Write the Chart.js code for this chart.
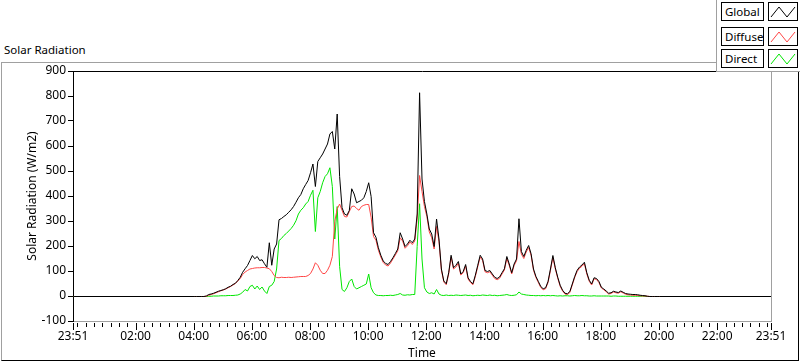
<!DOCTYPE html>
<html>
<head>
<meta charset="utf-8">
<script src="https://cdn.jsdelivr.net/npm/chart.js@4.4.1/dist/chart.umd.min.js"></script>
<style>
  html, body { margin: 0; padding: 0; background: #fff; }
  #panel { position: relative; width: 800px; height: 361px; overflow: hidden; font-family: "Noto Sans", sans-serif; font-size: 12px; color: #000; }
  #frame { position: absolute; left: 1px; top: 62px; width: 798px; height: 299px; box-sizing: border-box;
           border-left: 1px solid #a0a0a0; border-top: 1px solid #a0a0a0; border-right: 1px solid #000; border-bottom: 1px solid #000; }
  #title { position: absolute; left: 4px; top: 42px; line-height: 16px; font-size: 11.5px; }
  #chart { position: absolute; left: 0; top: 0; }
  #legend { position: absolute; left: 716px; top: 0; width: 84px; height: 72px; background: #fff; box-sizing: border-box;
            border-left: 1px solid #a0a0a0; border-bottom: 1px solid #a0a0a0; }
  .row { position: absolute; left: 4px; height: 19px; width: 78px; }
  .name { position: absolute; left: 0; top: 0; width: 43px; height: 19px; box-sizing: border-box; border: 1px solid #000;
          padding-left: 3px; line-height: 17px; font-size: 11.5px; }
  .sample { position: absolute; left: 47px; top: 0; width: 30px; height: 19px; box-sizing: border-box; border: 1px solid #000; }
  .sample svg { display: block; }
</style>
</head>
<body>
<div id="panel">
  <div id="frame"></div>
  <div id="title">Solar Radiation</div>
  <canvas id="chart" width="800" height="361"></canvas>
  <div id="legend"></div>
</div>
<script>
// time axis: previous day 23:51 to 23:51, samples every 5 min from 04:00 to 20:00
const times = ["23:51"];
for (let m = 4 * 60; m <= 20 * 60; m += 5) {
    times.push(String(Math.floor(m / 60)).padStart(2, "0") + ":" + String(m % 60).padStart(2, "0"));
}
times.push("23:51");

const timeTickLabels = ["23:51", "02:00", "04:00", "06:00", "08:00", "10:00", "12:00",
    "14:00", "16:00", "18:00", "20:00", "22:00", "23:51"];

const seriesNames = ["Global", "Diffuse", "Direct"];
const seriesColors = ["#000000", "#ff4646", "#00e600"];

// W/m2, one value per entry of times
const globalRad = [0,
    0, 0, 0, 0, 0, 2, 8, 10, 13, 17, 21, 24,
    27, 31, 37, 41, 48, 53, 64, 77, 97, 111, 124, 144,
    164, 151, 160, 144, 147, 131, 117, 215, 125, 190, 210, 307,
    312, 320, 327, 337, 347, 360, 377, 395, 408, 431, 448, 464,
    495, 530, 440, 540, 555, 570, 590, 610, 650, 660, 590, 730,
    480, 355, 330, 325, 344, 431, 410, 375, 380, 385, 395, 420,
    455, 400, 255, 237, 195, 165, 142, 132, 128, 140, 155, 172,
    190, 255, 230, 200, 210, 225, 215, 230, 330, 815, 470, 380,
    330, 270, 250, 200, 310, 230, 110, 62, 51, 95, 165, 115,
    125, 140, 90, 100, 128, 75, 60, 51, 85, 125, 165, 150,
    104, 100, 104, 90, 77, 72, 78, 95, 111, 160, 130, 95,
    130, 150, 311, 180, 160, 185, 204, 171, 110, 80, 60, 40,
    31, 35, 60, 110, 164, 115, 77, 45, 25, 13, 11, 20,
    50, 80, 105, 118, 126, 137, 95, 65, 50, 75, 72, 60,
    37, 30, 22, 13, 15, 21, 18, 16, 22, 17, 12, 10,
    9, 8, 8, 7, 5, 4, 3, 1, 0, 0, 0, 0,
    0,
    0];

const diffuseRad = [0,
    0, 0, 0, 0, 0, 1, 5, 8, 11, 15, 19, 23,
    26, 30, 35, 40, 46, 52, 62, 72, 88, 98, 104, 110,
    112, 114, 115, 115, 116, 116, 114, 111, 100, 84, 76, 75,
    77, 76, 76, 77, 76, 77, 78, 79, 80, 80, 80, 84,
    92, 110, 135, 125, 105, 92, 92, 105, 125, 160, 300, 350,
    370, 345, 320, 318, 340, 360, 362, 352, 345, 360, 365, 368,
    368, 317, 240, 225, 185, 158, 136, 126, 122, 134, 150, 166,
    183, 235, 222, 193, 203, 218, 208, 222, 310, 484, 420, 360,
    320, 258, 235, 190, 280, 220, 105, 58, 47, 90, 158, 110,
    118, 133, 86, 95, 122, 70, 56, 47, 80, 119, 158, 144,
    99, 95, 99, 85, 72, 67, 73, 90, 106, 152, 124, 90,
    124, 143, 220, 170, 152, 178, 196, 165, 105, 76, 56, 36,
    27, 31, 56, 105, 156, 110, 73, 41, 22, 10, 8, 16,
    46, 76, 100, 113, 121, 131, 90, 61, 46, 71, 68, 56,
    34, 27, 19, 10, 12, 18, 15, 13, 19, 14, 9, 7,
    6, 5, 5, 4, 3, 2, 2, 1, 0, 0, 0, 0,
    0,
    0];

const directRad = [0,
    0, 0, 0, 0, 0, 0, 1, 1, 2, 2, 2, 3,
    3, 3, 4, 4, 4, 5, 6, 10, 17, 28, 22, 40,
    45, 30, 42, 28, 38, 22, 12, 40, 45, 60, 110, 224,
    232, 244, 252, 262, 272, 285, 303, 330, 345, 355, 370, 380,
    405, 425, 260, 395, 420, 455, 480, 491, 515, 440, 230, 360,
    120, 28, 20, 35, 60, 70, 40, 30, 35, 40, 45, 50,
    90, 35, 15, 6, 4, 4, 3, 4, 4, 5, 4, 6,
    8, 12, 6, 5, 7, 6, 8, 8, 200, 371, 150, 35,
    18, 12, 15, 10, 28, 10, 5, 4, 6, 4, 5, 4,
    6, 5, 4, 5, 6, 4, 5, 3, 4, 5, 4, 6,
    5, 4, 6, 4, 5, 3, 4, 5, 6, 8, 5, 4,
    5, 7, 18, 10, 8, 6, 5, 4, 4, 3, 4, 3,
    4, 3, 4, 3, 4, 3, 2, 3, 2, 3, 3, 2,
    3, 4, 3, 3, 4, 3, 3, 2, 2, 3, 2, 2,
    2, 2, 2, 2, 1, 2, 2, 1, 1, 1, 1, 1,
    1, 1, 1, 1, 1, 1, 1, 0, 0, 0, 0, 0,
    0,
    0];

// minutes since the axis start (23:51 of the day before)
function toAxisMinutes(label, i) {
    if (i === 0) return 0;
    const [h, m] = label.split(":").map(Number);
    return h * 60 + m + 9;
}

function toPoints(values) {
    const n = Math.min(values.length, times.length);
    const pts = [];
    for (let i = 0; i < n; i++) pts.push({ x: toAxisMinutes(times[i], i), y: values[i] });
    return pts;
}

const tickValues = timeTickLabels.map(toAxisMinutes);
const tickText = {};
tickValues.forEach((v, i) => { tickText[v] = timeTickLabels[i]; });

// LabVIEW-ish frame: black top edge, grey right edge, major/minor time ticks
const plotFrame = {
    id: "plotFrame",
    beforeDatasetsDraw(chart) {
        // half pixel shift so flat stretches land on one pixel row
        chart.ctx.save();
        chart.ctx.translate(0.5, 0.5);
    },
    afterDatasetsDraw(chart) {
        chart.ctx.restore();
    },
    afterDraw(chart) {
        const { ctx, chartArea: a, scales: { x } } = chart;
        ctx.save();
        ctx.lineWidth = 1;
        ctx.strokeStyle = "#000";
        ctx.beginPath();
        ctx.moveTo(a.left, a.top + 0.5);
        ctx.lineTo(a.right + 1, a.top + 0.5);
        ctx.stroke();
        ctx.strokeStyle = "#a0a0a0";
        ctx.beginPath();
        ctx.moveTo(a.right + 0.5, a.top + 1);
        ctx.lineTo(a.right + 0.5, a.bottom + 1);
        ctx.stroke();

        ctx.strokeStyle = "#000";
        ctx.beginPath();
        const minorStep = 120 / 7;
        for (let t = 9; t <= 1440; t += minorStep) {
            const px = Math.round(x.getPixelForValue(t)) + 0.5;
            ctx.moveTo(px, a.bottom + 2);
            ctx.lineTo(px, a.bottom + 6);
        }
        tickValues.forEach(v => {
            const px = Math.round(x.getPixelForValue(v)) + 0.5;
            ctx.moveTo(px, a.bottom + 2);
            ctx.lineTo(px, a.bottom + 9);
        });
        ctx.stroke();
        ctx.restore();
    }
};

const datasets = [globalRad, diffuseRad, directRad].map((vals, i) => ({
    label: seriesNames[i],
    data: toPoints(vals),
    borderColor: seriesColors[i],
    borderWidth: 1,
    pointRadius: 0,
    tension: 0,
    fill: false,
}));

const font = { family: "'Noto Sans', sans-serif", size: 12 };

new Chart(document.getElementById("chart"), {
    type: "line",
    data: { datasets },
    options: {
        responsive: false,
        devicePixelRatio: 1,
        animation: false,
        events: [],
        layout: { padding: { left: 0, right: 29, top: 71, bottom: 0 } },
        plugins: { legend: { display: false }, tooltip: { enabled: false } },
        scales: {
            x: {
                type: "linear",
                min: 0,
                max: 1440,
                afterFit(scale) { scale.height = 40; },
                afterBuildTicks(scale) { scale.ticks = tickValues.map(v => ({ value: v })); },
                ticks: {
                    autoSkip: false,
                    maxRotation: 0,
                    padding: 1,
                    color: "#000",
                    font,
                    callback: v => tickText[v] ?? "",
                },
                grid: { drawOnChartArea: false, tickLength: 7, tickColor: "rgba(0,0,0,0)" },
                border: { color: "#a0a0a0" },
                title: { display: true, text: "Time", color: "#000", font, padding: { top: 0, bottom: 0 } },
            },
            y: {
                min: -100,
                max: 900,
                afterFit(scale) { scale.width = 73; },
                ticks: { stepSize: 100, padding: 2, color: "#000", font },
                grid: { drawOnChartArea: false, tickLength: 5, tickColor: "#000" },
                border: { color: "#000" },
                title: { display: true, text: "Solar Radiation (W/m2)", color: "#000", font, padding: { top: 25, bottom: 0 } },
            },
        },
    },
    plugins: [plotFrame],
});

// legend boxes, drawn like the instrument panel
const legend = document.getElementById("legend");
const rowTops = [2, 27, 49];
seriesNames.forEach((name, i) => {
    const row = document.createElement("div");
    row.className = "row";
    row.style.top = rowTops[i] + "px";
    row.innerHTML = '<div class="name">' + name + '</div>' +
        '<div class="sample"><svg width="28" height="17"><polyline points="2,14 10,4 18,14 26,4" fill="none" stroke="' +
        seriesColors[i] + '" stroke-width="1"/></svg></div>';
    legend.appendChild(row);
});
</script>
</body>
</html>
